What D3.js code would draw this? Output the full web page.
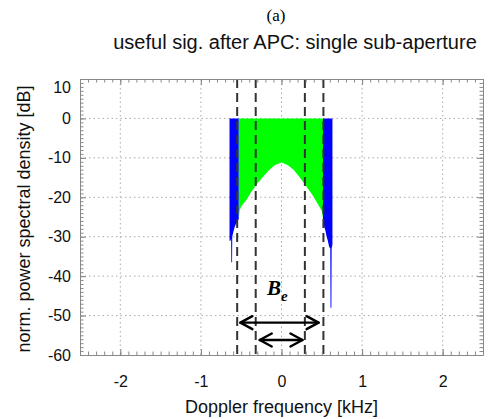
<!DOCTYPE html>
<html>
<head>
<meta charset="utf-8">
<script src="https://cdn.jsdelivr.net/npm/d3@7"></script>
<style>
  body { margin: 0; background: #fff; }
  text { font-family: "Liberation Sans", Arial, sans-serif; }
</style>
</head>
<body>
<div id="chart"></div>
<script>
// tick values
const xTicks = [-2, -1, 0, 1, 2];
const yTicks = [10, 0, -10, -20, -30, -40, -50, -60];

// blue spectrum, edges outside the green band
const blueLeftFreq = [-0.645, -0.632, -0.625, -0.623, -0.613, -0.611, -0.6, -0.58, -0.56, -0.545, -0.53];
const blueLeftDb   = [-31, -31, -30.5, -36.5, -36.5, -30, -29, -27.5, -26.5, -26, -25.5];
const blueRightFreq = [0.515, 0.53, 0.545, 0.56, 0.575, 0.59, 0.605, 0.608, 0.619, 0.622, 0.632];
const blueRightDb   = [-25.5, -27.5, -28.5, -30, -31, -32.5, -33, -48, -48, -33, -32];

// green spectrum, lower envelope
const greenFreq = [-0.53, -0.52, -0.5, -0.44, -0.38, -0.3, -0.22, -0.15, -0.08, 0, 0.08, 0.15, 0.22, 0.3, 0.38, 0.44, 0.5, 0.515];
const greenDb   = [-25.5, -23.5, -22.3, -20.8, -18.8, -16.5, -14.6, -13, -11.8, -11.2, -11.9, -13, -14.8, -17, -19.3, -21.3, -23.5, -25.5];

// dashed band limits and arrows
const dashFreq = [-0.55, -0.32, 0.29, 0.52];
const wideArrow = [-0.51, 0.46];
const narrowArrow = [-0.27, 0.26];
const wideArrowDb = -51.8;
const narrowArrowDb = -56.2;

const W = 491, H = 419;
const svg = d3.select("#chart").append("svg")
    .attr("width", W)
    .attr("height", H);

const x = d3.scaleLinear().domain([-2.5, 2.5]).range([80, 483]);
const y = d3.scaleLinear().domain([-60, 10]).range([355, 79]);

// grid
svg.append("g").selectAll("line")
    .data(xTicks)
    .join("line")
    .attr("x1", d => x(d)).attr("x2", d => x(d))
    .attr("y1", y(10)).attr("y2", y(-60))
    .attr("stroke", "#aaa").attr("stroke-dasharray", "1.5,3");
svg.append("g").selectAll("line")
    .data(yTicks.filter(d => d < 10 && d > -60))
    .join("line")
    .attr("x1", x(-2.5)).attr("x2", x(2.5))
    .attr("y1", d => y(d)).attr("y2", d => y(d))
    .attr("stroke", "#aaa").attr("stroke-dasharray", "1.5,3");

// spectra
const area = d3.area()
    .x(d => x(d[0]))
    .y0(y(0))
    .y1(d => y(d[1]));

svg.append("path")
    .datum(d3.zip(blueLeftFreq, blueLeftDb))
    .attr("d", area).attr("fill", "#0000ff");
svg.append("path")
    .datum(d3.zip(blueRightFreq, blueRightDb))
    .attr("d", area).attr("fill", "#0000ff");
svg.append("path")
    .datum(d3.zip(greenFreq, greenDb))
    .attr("d", area).attr("fill", "#00ff00");

// dashed lines
svg.append("g").selectAll("line")
    .data(dashFreq)
    .join("line")
    .attr("x1", d => x(d)).attr("x2", d => x(d))
    .attr("y1", y(10)).attr("y2", y(-60))
    .attr("stroke", "#333").attr("stroke-width", 2)
    .attr("stroke-dasharray", "9,5");

// axes, ticks inward on all four sides
const axisColor = "#888";
function styleAxis(g) {
    g.selectAll("path, line").attr("stroke", axisColor);
    g.selectAll("text").attr("fill", "#111").style("font-size", "16px")
        .style("font-family", '"Liberation Sans", Arial, sans-serif');
}
const xMinor = d3.range(-25, 26).map(d => d / 10);
const yMinor = d3.range(-60, 11);

svg.append("g").attr("transform", `translate(0,${y(-60)})`)
    .call(d3.axisBottom(x).tickValues(xMinor).tickSize(-3.5).tickSizeOuter(0).tickFormat(""))
    .call(styleAxis);
svg.append("g").attr("transform", `translate(0,${y(-60)})`)
    .call(d3.axisBottom(x).tickValues(xTicks).tickSize(-6).tickSizeOuter(0).tickPadding(21).tickFormat(d => String(d)))
    .call(styleAxis)
    .call(g => g.select(".domain").remove());
svg.append("g").attr("transform", `translate(0,${y(10)})`)
    .call(d3.axisTop(x).tickValues(xMinor).tickSize(-3.5).tickSizeOuter(0).tickFormat(""))
    .call(styleAxis);
svg.append("g").attr("transform", `translate(0,${y(10)})`)
    .call(d3.axisTop(x).tickValues(xTicks).tickSize(-6).tickSizeOuter(0).tickFormat(""))
    .call(styleAxis)
    .call(g => g.select(".domain").remove());

svg.append("g").attr("transform", `translate(${x(-2.5)},0)`)
    .call(d3.axisLeft(y).tickValues(yMinor).tickSize(-3.5).tickSizeOuter(0).tickFormat(""))
    .call(styleAxis);
svg.append("g").attr("transform", `translate(${x(-2.5)},0)`)
    .call(d3.axisLeft(y).tickValues(yTicks).tickSize(-6).tickSizeOuter(0).tickPadding(9).tickFormat(d => String(d)))
    .call(styleAxis)
    .call(g => g.select(".domain").remove())
    .call(g => g.selectAll(".tick").filter(d => d === 10).select("text").attr("dy", "0.85em"));
svg.append("g").attr("transform", `translate(${x(2.5)},0)`)
    .call(d3.axisRight(y).tickValues(yMinor).tickSize(-3.5).tickSizeOuter(0).tickFormat(""))
    .call(styleAxis);
svg.append("g").attr("transform", `translate(${x(2.5)},0)`)
    .call(d3.axisRight(y).tickValues(yTicks).tickSize(-6).tickSizeOuter(0).tickFormat(""))
    .call(styleAxis)
    .call(g => g.select(".domain").remove());

// arrows
function drawArrow(f, db) {
    const g = svg.append("g").attr("stroke", "#000").attr("stroke-width", 2.4).attr("fill", "none")
        .attr("stroke-linecap", "round").attr("stroke-linejoin", "round");
    const x1 = x(f[0]), x2 = x(f[1]), yy = y(db);
    g.append("line").attr("x1", x1).attr("x2", x2).attr("y1", yy).attr("y2", yy);
    g.append("path").attr("d", `M${x1 + 12},${yy - 6.5}L${x1},${yy}L${x1 + 12},${yy + 6.5}`);
    g.append("path").attr("d", `M${x2 - 12},${yy - 6.5}L${x2},${yy}L${x2 - 12},${yy + 6.5}`);
}
drawArrow(wideArrow, wideArrowDb);
drawArrow(narrowArrow, narrowArrowDb);

// B_e label
const be = svg.append("text")
    .attr("x", x(-0.18)).attr("y", y(-44.8))
    .style("font-family", '"Liberation Serif", "Times New Roman", serif')
    .style("font-weight", "bold").style("font-style", "italic")
    .style("font-size", "21px");
be.append("tspan").text("B");
be.append("tspan").attr("dy", 6).style("font-size", "15px").text("e");

// titles
svg.append("text")
    .attr("x", 276).attr("y", 21)
    .attr("text-anchor", "middle")
    .style("font-family", '"Liberation Serif", "Times New Roman", serif')
    .style("font-size", "17px")
    .text("(a)");

svg.append("text")
    .attr("x", 295).attr("y", 49)
    .attr("text-anchor", "middle")
    .style("font-size", "20px")
    .attr("fill", "#111")
    .text("useful sig. after APC: single sub-aperture");

svg.append("text")
    .attr("x", (x(-2.5) + x(2.5)) / 2).attr("y", 413)
    .attr("text-anchor", "middle")
    .style("font-size", "18px")
    .attr("fill", "#111")
    .text("Doppler frequency [kHz]");

svg.append("text")
    .attr("transform", `translate(30,${(y(10) + y(-60)) / 2 + 2}) rotate(-90)`)
    .attr("text-anchor", "middle")
    .style("font-size", "18px")
    .attr("fill", "#111")
    .text("norm. power spectral density [dB]");
</script>
</body>
</html>
